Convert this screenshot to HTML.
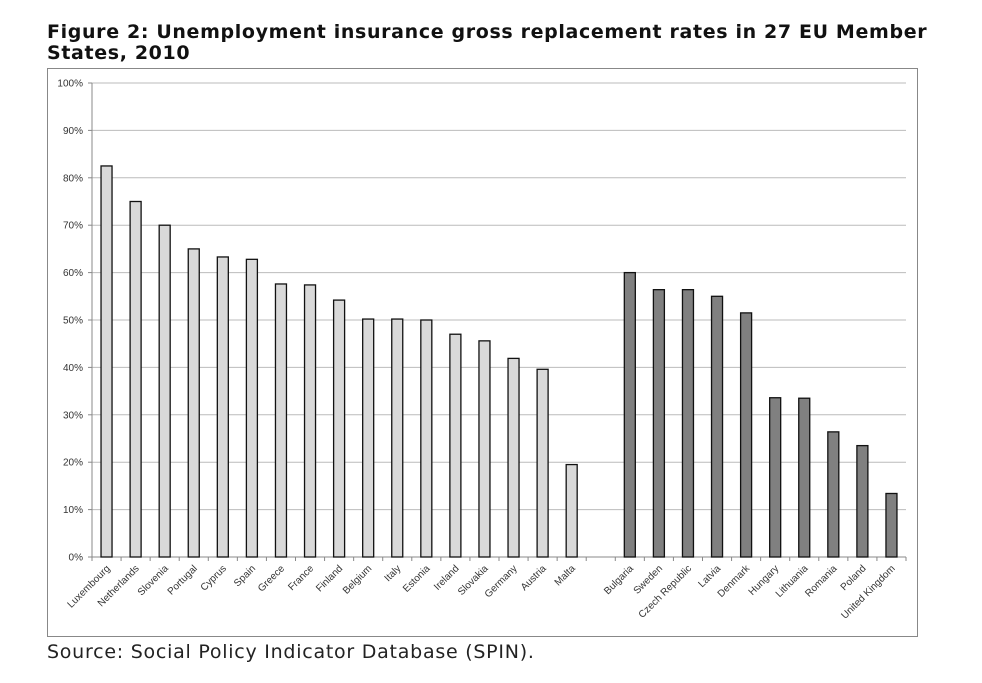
<!DOCTYPE html>
<html><head><meta charset="utf-8"><style>
body{margin:0;background:#fff;width:982px;height:683px;overflow:hidden;position:relative;font-family:"DejaVu Sans","Liberation Sans",sans-serif}
#title{position:absolute;left:47px;top:22px;font-weight:bold;font-size:19px;line-height:21px;color:#111;letter-spacing:0.64px;white-space:nowrap}
#source{position:absolute;left:47px;top:641px;font-size:19px;color:#222;letter-spacing:0.75px;white-space:nowrap}
svg{position:absolute;left:0;top:0}
</style></head><body>
<div id="title">Figure 2: Unemployment insurance gross replacement rates in 27 EU Member<br>States, 2010</div>
<svg id="chart" width="982" height="683"></svg>
<div id="source">Source: Social Policy Indicator Database (SPIN).</div>
<script>
const categories=["Luxembourg","Netherlands","Slovenia","Portugal","Cyprus","Spain","Greece","France","Finland","Belgium","Italy","Estonia","Ireland","Slovakia","Germany","Austria","Malta","","Bulgaria","Sweden","Czech Republic","Latvia","Denmark","Hungary","Lithuania","Romania","Poland","United Kingdom"];
const values=[82.5,75,70,65,63.3,62.8,57.6,57.4,54.2,50.2,50.2,50,47,45.6,41.9,39.6,19.5,null,60,56.4,56.4,55,51.5,33.6,33.5,26.4,23.5,13.4];
const groups=["a","a","a","a","a","a","a","a","a","a","a","a","a","a","a","a","a","","b","b","b","b","b","b","b","b","b","b"];
const yTicks=[0,10,20,30,40,50,60,70,80,90,100];
const NS="http://www.w3.org/2000/svg";
const svg=document.getElementById('chart');
const X0=92,X1=906,Y0=557,Y1=83;
const step=(X1-X0)/categories.length;
const y=v=>Y0-(v/100)*(Y0-Y1);
const xc=i=>X0+step*(i+0.5);
function mk(t,a){const e=document.createElementNS(NS,t);for(const k in a)e.setAttribute(k,a[k]);svg.appendChild(e);return e;}
let e=mk('rect',{x:47.5,y:68.5,width:870,height:568,fill:'none',stroke:'#888','stroke-width':1});


yTicks.forEach(t=>{
  const g=mk('line',{x1:X0,x2:X1,y1:y(t),y2:y(t),stroke:'#bbb','stroke-width':1});
  
  
  const l=mk('text',{x:X0-9,y:y(t)+3.5,'text-anchor':'end','font-size':'10','font-family':'"Liberation Sans",sans-serif',fill:'#333'});
  l.textContent=t+'%';
  
  
  mk('line',{x1:X0-4,x2:X0,y1:y(t),y2:y(t),stroke:'#888'});
});
e=mk('line',{x1:X0,x2:X0,y1:Y1,y2:Y0,stroke:'#888'});


e=mk('line',{x1:X0,x2:X1,y1:Y0,y2:Y0,stroke:'#888'});


for(let i=0;i<=categories.length;i++){mk('line',{x1:X0+step*i,x2:X0+step*i,y1:Y0,y2:Y0+4,stroke:'#888'});}
categories.forEach((c,i)=>{
  if(values[i]!==null){
    const b=mk('rect',{x:xc(i)-5.5,y:y(values[i]),width:11,height:Y0-y(values[i]),fill:groups[i]==='a'?'#d9d9d9':'#808080',stroke:'#111','stroke-width':1.3});
    
    
  }
  if(c){
    const tx=xc(i)+4,ty=Y0+12;
    const l=mk('text',{x:tx,y:ty,'text-anchor':'end','font-size':'10','font-family':'"Liberation Sans",sans-serif',fill:'#333',transform:`rotate(-45 ${tx} ${ty})`});
    l.textContent=c;
    
    
  }
});
</script>
</body></html>
